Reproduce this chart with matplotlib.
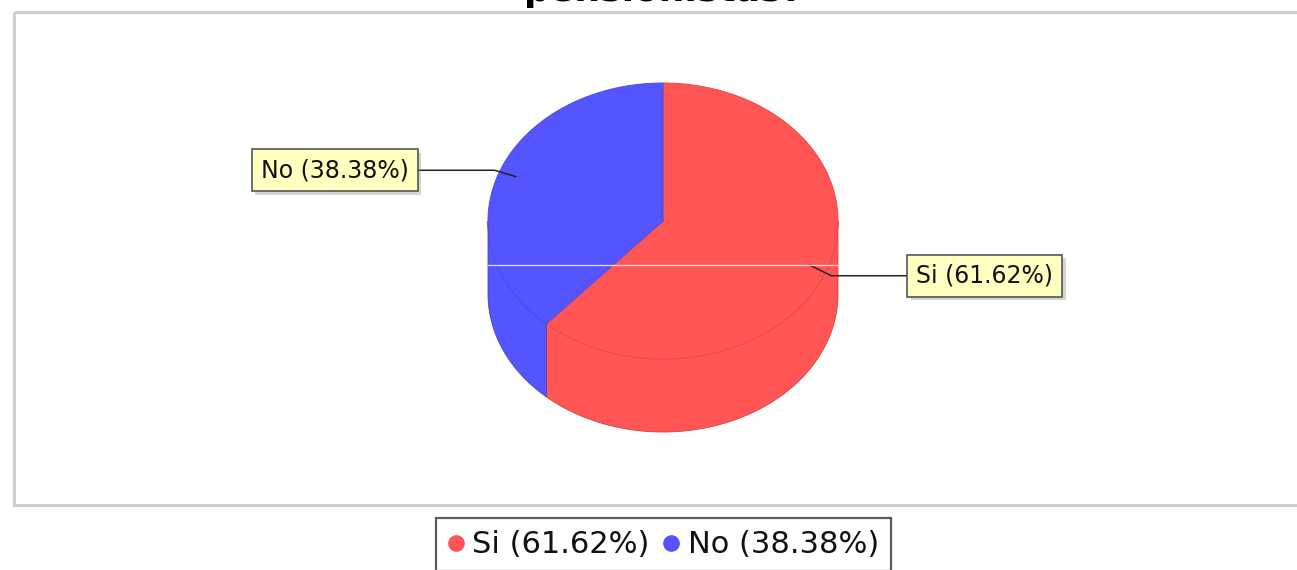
import numpy as np
import matplotlib
matplotlib.use("Agg")
import matplotlib.pyplot as plt
from matplotlib.patches import Polygon, Rectangle
from matplotlib.lines import Line2D
import matplotlib.patheffects as pe

# ---- data ----
categories = ["Si", "No"]
percentages = [61.62, 38.38]
slice_colors = ["#FF5555", "#5555FF"]
title_text = "pensionistas?"

# ---- layout (pixels) ----
W, H = 1297, 570
cx, cy = 663, 221          # centre of the top ellipse
ra, rb = 175, 138          # radii of the top ellipse
depth = 73                 # 3D depth

fig = plt.figure(figsize=(W / 100, H / 100), dpi=100)
ax = fig.add_axes([0, 0, 1, 1])
ax.set_xlim(0, W)
ax.set_ylim(H, 0)
ax.axis("off")

# plot area border
ax.add_patch(Rectangle((14, 11.5), W + 20, 493, fill=False, ec="#cfcfcf", lw=2.2, zorder=0))

# title (mostly cut off at the top, as in the reference)
ax.text(663, 0.5, title_text, ha="center", va="baseline", fontsize=26,
        fontweight="bold", color="black", zorder=5)


def pt(theta_deg, scale=1.0, dy=0.0):
    t = np.radians(theta_deg)
    return cx + scale * ra * np.cos(t), cy - scale * rb * np.sin(t) + dy


def darker(c, f=0.85):
    rgb = np.array(matplotlib.colors.to_rgb(c))
    return tuple(rgb * f)


# slice angles (clockwise from 12 o'clock)
fracs = np.array(percentages) / sum(percentages)
starts = 90 - 360 * np.concatenate([[0], np.cumsum(fracs)[:-1]])
ends = starts - 360 * fracs

# sides (front half: math angles in [-180, 0])
for s, e, col in zip(starts, ends, slice_colors):
    lo, hi = e, s
    for k in (-1, 0, 1):
        a0 = max(lo + 360 * k, -180)
        a1 = min(hi + 360 * k, 0)
        if a1 > a0:
            th = np.linspace(a0, a1, 120)
            top = np.array([pt(t) for t in th])
            bot = np.array([pt(t, dy=depth) for t in th[::-1]])
            poly = np.vstack([top, bot])
            ax.add_patch(Polygon(poly, closed=True, fc=col, ec=darker(col, 0.8),
                                 lw=0.6, zorder=2))

# tops
for s, e, col in zip(starts, ends, slice_colors):
    th = np.linspace(s, e, 200)
    arc = np.array([pt(t) for t in th])
    poly = np.vstack([[cx, cy], arc])
    ax.add_patch(Polygon(poly, closed=True, fc=col, ec=darker(col, 0.9),
                         lw=0.7, zorder=3))

# image artifact line
ax.plot([488, 1063], [265, 265], color="white", lw=0.9, alpha=0.85, zorder=6)

# labels with link lines
for cat, p, s, e in zip(categories, percentages, starts, ends):
    mid = (s + e) / 2
    right_side = np.cos(np.radians(mid)) > 0
    inner = pt(mid, 0.9)
    elbow = pt(mid, 1.03, dy=4 if right_side else 0)
    bx = elbow[0] + (76 if right_side else -77)
    ax.plot([inner[0], elbow[0], bx], [inner[1], elbow[1], elbow[1]],
            color="#222222", lw=1.1, zorder=4)
    txt = ax.text(bx + (9 if right_side else -9), elbow[1], f"{cat} ({p:.2f}%)",
                  ha="left" if right_side else "right", va="center",
                  fontsize=17, color="#111111", zorder=7,
                  bbox=dict(boxstyle="square,pad=0.38", fc="#FFFFC0",
                            ec="#555555", lw=1.2))
    txt.get_bbox_patch().set_path_effects(
        [pe.SimplePatchShadow(offset=(2.5, -2.5), shadow_rgbFace="#888888", alpha=0.35),
         pe.Normal()])

# legend
handles = [Line2D([], [], marker="o", ls="none", markersize=11,
                  markerfacecolor=c, markeredgecolor=c)
           for c in slice_colors]
labels = [f"{c} ({p:.2f}%)" for c, p in zip(categories, percentages)]
leg = fig.legend(handles, labels, loc="upper center", ncol=2,
                 bbox_to_anchor=(663.5 / W, 1 - 518 / H),
                 fontsize=22, frameon=True, fancybox=False,
                 handlelength=0.5, handletextpad=0.3, columnspacing=0.45,
                 borderpad=0.4, borderaxespad=0)
leg.get_frame().set_edgecolor("#333333")
leg.get_frame().set_linewidth(1.6)
for t in leg.get_texts():
    t.set_color("#111111")

fig.savefig("out.png", dpi=100)
